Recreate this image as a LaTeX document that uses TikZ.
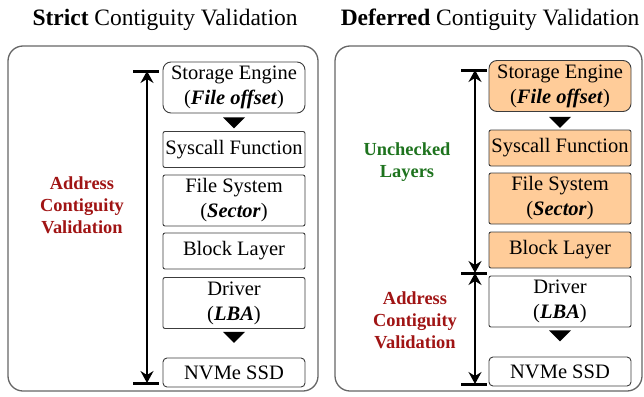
\documentclass[tikz,border=0pt]{standalone}
\usepackage{fontspec}
\setmainfont{Liberation Serif}
\usetikzlibrary{arrows.meta, calc, positioning}
\usepackage{xcolor}

\definecolor{valred}{RGB}{160,20,20}
\definecolor{okgreen}{RGB}{30,115,30}
\definecolor{layerfill}{RGB}{255,204,153}
\definecolor{boxline}{RGB}{60,60,60}

\tikzset{
  layer/.style={draw=boxline, line width=0.9pt, rounded corners=2pt,
    minimum width=142pt, inner sep=0pt, align=center,
    font=\fontsize{20.5}{25}\selectfont},
  tall/.style={layer, minimum height=51pt},
  short/.style={layer, minimum height=36pt},
  panel/.style={draw=black!60, line width=1.3pt, rounded corners=15pt},
  title/.style={anchor=base, font=\fontsize{23.5}{28}\selectfont},
  note/.style={align=center, font=\fontsize{18.4}{22}\selectfont\bfseries},
  measure/.style={line width=1.6pt, {Stealth[length=12pt,width=13pt,inset=4pt]}-{Stealth[length=12pt,width=13pt,inset=4pt]}},
  bar/.style={line width=3pt},
}

\begin{document}
\begin{tikzpicture}[x=1pt, y=-1pt]
  \useasboundingbox (0,0) rectangle (644,396);

  % titles
  \node[title] (titleL) at (165,26) {\textbf{Strict} Contiguity Validation};
  \node[title] (titleR) at (490,26) {\textbf{Deferred} Contiguity Validation};

  % panels
  \draw[panel] (8,46) rectangle (318,391);
  \draw[panel] (335,46) rectangle (642,391);

  % left stack
  \node[tall, rounded corners=8pt] (seL) at (234,87.5) {Storage Engine\\(\textbf{\textit{File offset}})};
  \node[short] (scL) at (234,149.5) {Syscall Function};
  \node[tall] (fsL) at (234,200.5) {File System\\(\textbf{\textit{Sector}})};
  \node[short] (blL) at (234,251) {Block Layer};
  \node[tall] (drL) at (234,303) {Driver\\(\textbf{\textit{LBA}})};
  \node[layer, minimum height=29pt, rounded corners=4pt] (ssdL) at (234,372.5) {NVMe SSD};

  % right stack
  \node[tall, rounded corners=8pt, fill=layerfill] (seR) at (560,86) {Storage Engine\\(\textbf{\textit{File offset}})};
  \node[short, fill=layerfill] (scR) at (560,148) {Syscall Function};
  \node[tall, fill=layerfill] (fsR) at (560,198.5) {File System\\(\textbf{\textit{Sector}})};
  \node[short, fill=layerfill] (blR) at (560,250) {Block Layer};
  \node[tall] (drR) at (560,301.5) {Driver\\(\textbf{\textit{LBA}})};
  \node[layer, minimum height=29pt, rounded corners=4pt] (ssdR) at (560,371.5) {NVMe SSD};

  % flow markers
  \fill ($(seL.south)+(-11,4)$) -- ++(22,0) -- ++(-11,11) -- cycle;
  \fill ($(drL.south)+(-11,3)$) -- ++(22,0) -- ++(-11,11) -- cycle;
  \fill ($(seR.south)+(-11,5)$) -- ++(22,0) -- ++(-11,11) -- cycle;
  \fill ($(drR.south)+(-11,3)$) -- ++(22,0) -- ++(-11,11) -- cycle;

  % left range
  \coordinate (topL) at (147,71);
  \coordinate (botL) at (147,383);
  \draw[measure] (botL) -- (topL);
  \draw[bar] ($(topL)+(-14,0)$) -- ++(26,0);
  \draw[bar] ($(botL)+(-14,0)$) -- ++(26,0);
  \node[note, text=valred] (valL) at (82,205) {Address\\Contiguity\\Validation};

  % right ranges
  \coordinate (topR) at (475,70);
  \coordinate (midR) at (475,273);
  \coordinate (botR) at (475,384);
  \draw[measure] (midR) -- (topR);
  \draw[measure] (botR) -- (midR);
  \draw[bar] ($(topR)+(-14,0)$) -- ++(26,0);
  \draw[bar] ($(midR)+(-14,0)$) -- ++(26,0);
  \draw[bar] ($(botR)+(-14,0)$) -- ++(26,0);
  \node[note, text=okgreen] (skipR) at (407,162) {Unchecked\\Layers};
  \node[note, text=valred] (valR) at (415,320) {Address\\Contiguity\\Validation};
\end{tikzpicture}
\end{document}
